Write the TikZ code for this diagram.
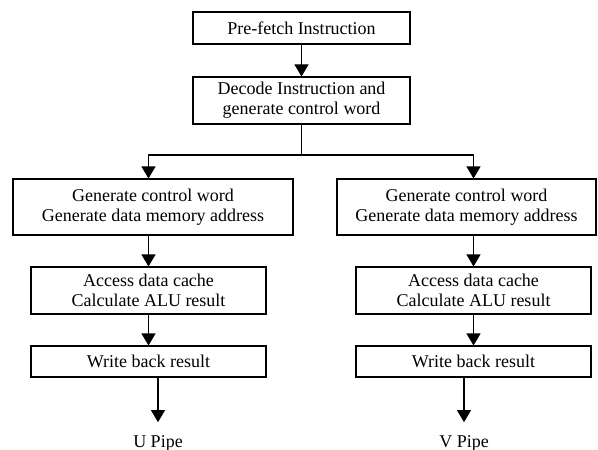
\documentclass[tikz,border=0pt]{standalone}
\usepackage{fontspec}
\setmainfont{Liberation Serif}
\usetikzlibrary{arrows.meta}

\begin{document}
\begin{tikzpicture}[
  x=0.75pt, y=-0.75pt,
  every node/.style={font=\fontsize{13.5}{15}\selectfont, align=center, inner sep=0pt},
  stage/.style={draw, line width=0.8pt, rectangle},
  flow/.style={line width=0.8pt, -{Triangle[width=10.5pt,length=9pt]}},
  link/.style={line width=0.8pt}
]
\useasboundingbox (0,0) rectangle (598,449);

% common front end
\node[stage, minimum width=217*0.75pt, minimum height=32*0.75pt] (pre) at (301.5,28) {Pre-fetch Instruction};
\node[stage, minimum width=217*0.75pt, minimum height=47*0.75pt] (dec) at (301.5,100.5) {Decode Instruction and\\generate control word};

% U pipe stages
\node[stage, minimum width=280*0.75pt, minimum height=56*0.75pt] (l2) at (153,207) {Generate control word\\Generate data memory address};
\node[stage, minimum width=235*0.75pt, minimum height=47*0.75pt] (l3) at (148.5,290.5) {Access data cache\\Calculate ALU result};
\node[stage, minimum width=235*0.75pt, minimum height=31*0.75pt] (lw) at (148.5,361.5) {Write back result};
\node[anchor=base] (up) at (158,447) {U Pipe};

% V pipe stages
\node[stage, minimum width=259*0.75pt, minimum height=56*0.75pt] (r2) at (466.5,207) {Generate control word\\Generate data memory address};
\node[stage, minimum width=235*0.75pt, minimum height=47*0.75pt] (r3) at (473.5,290.5) {Access data cache\\Calculate ALU result};
\node[stage, minimum width=235*0.75pt, minimum height=31*0.75pt] (rw) at (473.5,361.5) {Write back result};
\node[anchor=base] (vp) at (464,447) {V Pipe};

% connectors
\coordinate (split) at (301.5,155);
\draw[flow] (pre) -- (dec);
\draw[link] (dec.south) -- (split);
\draw[flow] (split) -| (l2.north -| l3.north);
\draw[flow] (split) -| (r2.north -| r3.north);

\draw[flow] (l2.south -| l3.north) -- (l3.north);
\draw[flow] (l3) -- (lw);
\draw[flow] (lw.south -| up.north) -- ([yshift=9.5pt]up.north);

\draw[flow] (r2.south -| r3.north) -- (r3.north);
\draw[flow] (r3) -- (rw);
\draw[flow] (rw.south -| vp.north) -- ([yshift=9.5pt]vp.north);
\end{tikzpicture}
\end{document}
